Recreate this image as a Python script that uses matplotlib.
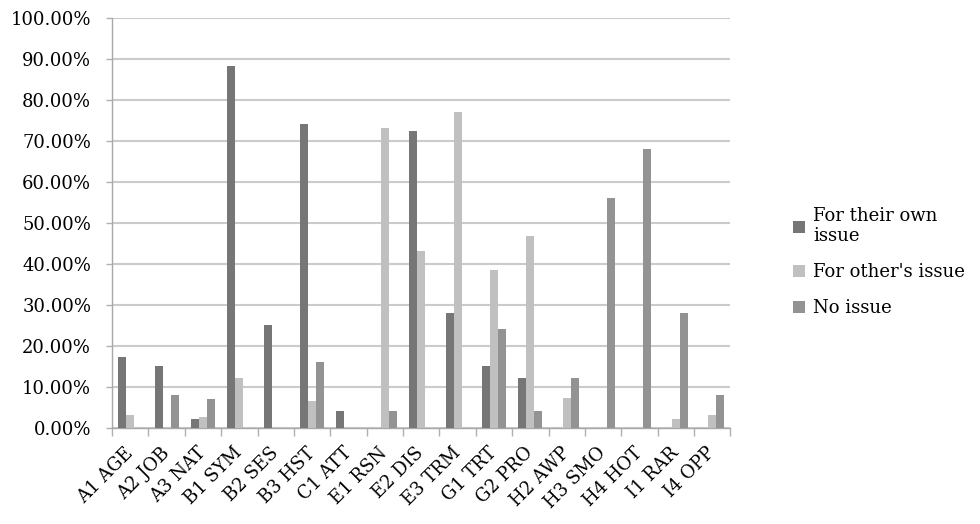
import numpy as np
import matplotlib.pyplot as plt
from matplotlib.ticker import FuncFormatter, FixedLocator

plt.rcParams['font.family'] = ['DejaVu Serif']

categories = ['A1 AGE', 'A2 JOB', 'A3 NAT', 'B1 SYM', 'B2 SES', 'B3 HST', 'C1 ATT',
              'E1 RSN', 'E2 DIS', 'E3 TRM', 'G1 TRT', 'G2 PRO', 'H2 AWP', 'H3 SMO',
              'H4 HOT', 'I1 RAR', 'I4 OPP']
own_issue = [17.3, 15.1, 2.2, 88.3, 25.1, 74.1, 4.1, 0, 72.4, 28.0, 15.1, 12.2, 0, 0, 0, 0, 0]
others_issue = [3.2, 0, 2.7, 12.2, 0, 6.6, 0, 73.2, 43.2, 77.1, 38.5, 46.8, 7.3, 0, 0, 2.2, 3.2]
no_issue = [0, 8.0, 7.0, 0, 0, 16.1, 0, 4.1, 0, 0, 24.1, 4.1, 12.2, 56.1, 68.0, 28.0, 8.0]
labels = ['For their own\nissue', "For other's issue", 'No issue']
colors = ['#767676', '#c0c0c0', '#939393']

fig = plt.figure(figsize=(9.8, 5.24), dpi=100)
ax = fig.add_axes([0.1143, 0.1832, 0.631, 0.7824])

x = np.arange(len(categories))
w = 0.22
for k, (vals, lab, col) in enumerate(zip([own_issue, others_issue, no_issue], labels, colors)):
    ax.bar(x + (k - 1) * w, vals, w, color=col, label=lab, zorder=3)

ax.set_xlim(-0.5, len(categories) - 0.5)
ax.set_ylim(0, 100)
ax.set_yticks(np.arange(0, 101, 10))
ax.yaxis.set_major_formatter(FuncFormatter(lambda v, p: '%.2f%%' % v))
ax.grid(axis='y', color='#cbcbcb', linewidth=1.5, zorder=0)

ax.set_xticks(x)
ax.set_xticklabels(categories, rotation=45, ha='right', va='center', rotation_mode='anchor')
ax.xaxis.set_minor_locator(FixedLocator(np.arange(-0.5, len(categories), 1)))
ax.tick_params(axis='x', which='major', length=0, pad=16)
ax.tick_params(axis='x', which='minor', length=6, color='#b0b0b0', width=1)
ax.tick_params(axis='y', length=4, color='#b0b0b0', width=1, pad=11)
ax.tick_params(labelsize=13)

for s in ['top', 'right']:
    ax.spines[s].set_visible(False)
for s in ['left', 'bottom']:
    ax.spines[s].set_color('#a8a8a8')
    ax.spines[s].set_linewidth(1)

ax.legend(loc='center left', bbox_to_anchor=(1.075, 0.405), frameon=False,
          fontsize=13, handlelength=0.65, handleheight=0.65, handletextpad=0.45,
          labelspacing=1.0)

plt.savefig('out.png', dpi=100)
